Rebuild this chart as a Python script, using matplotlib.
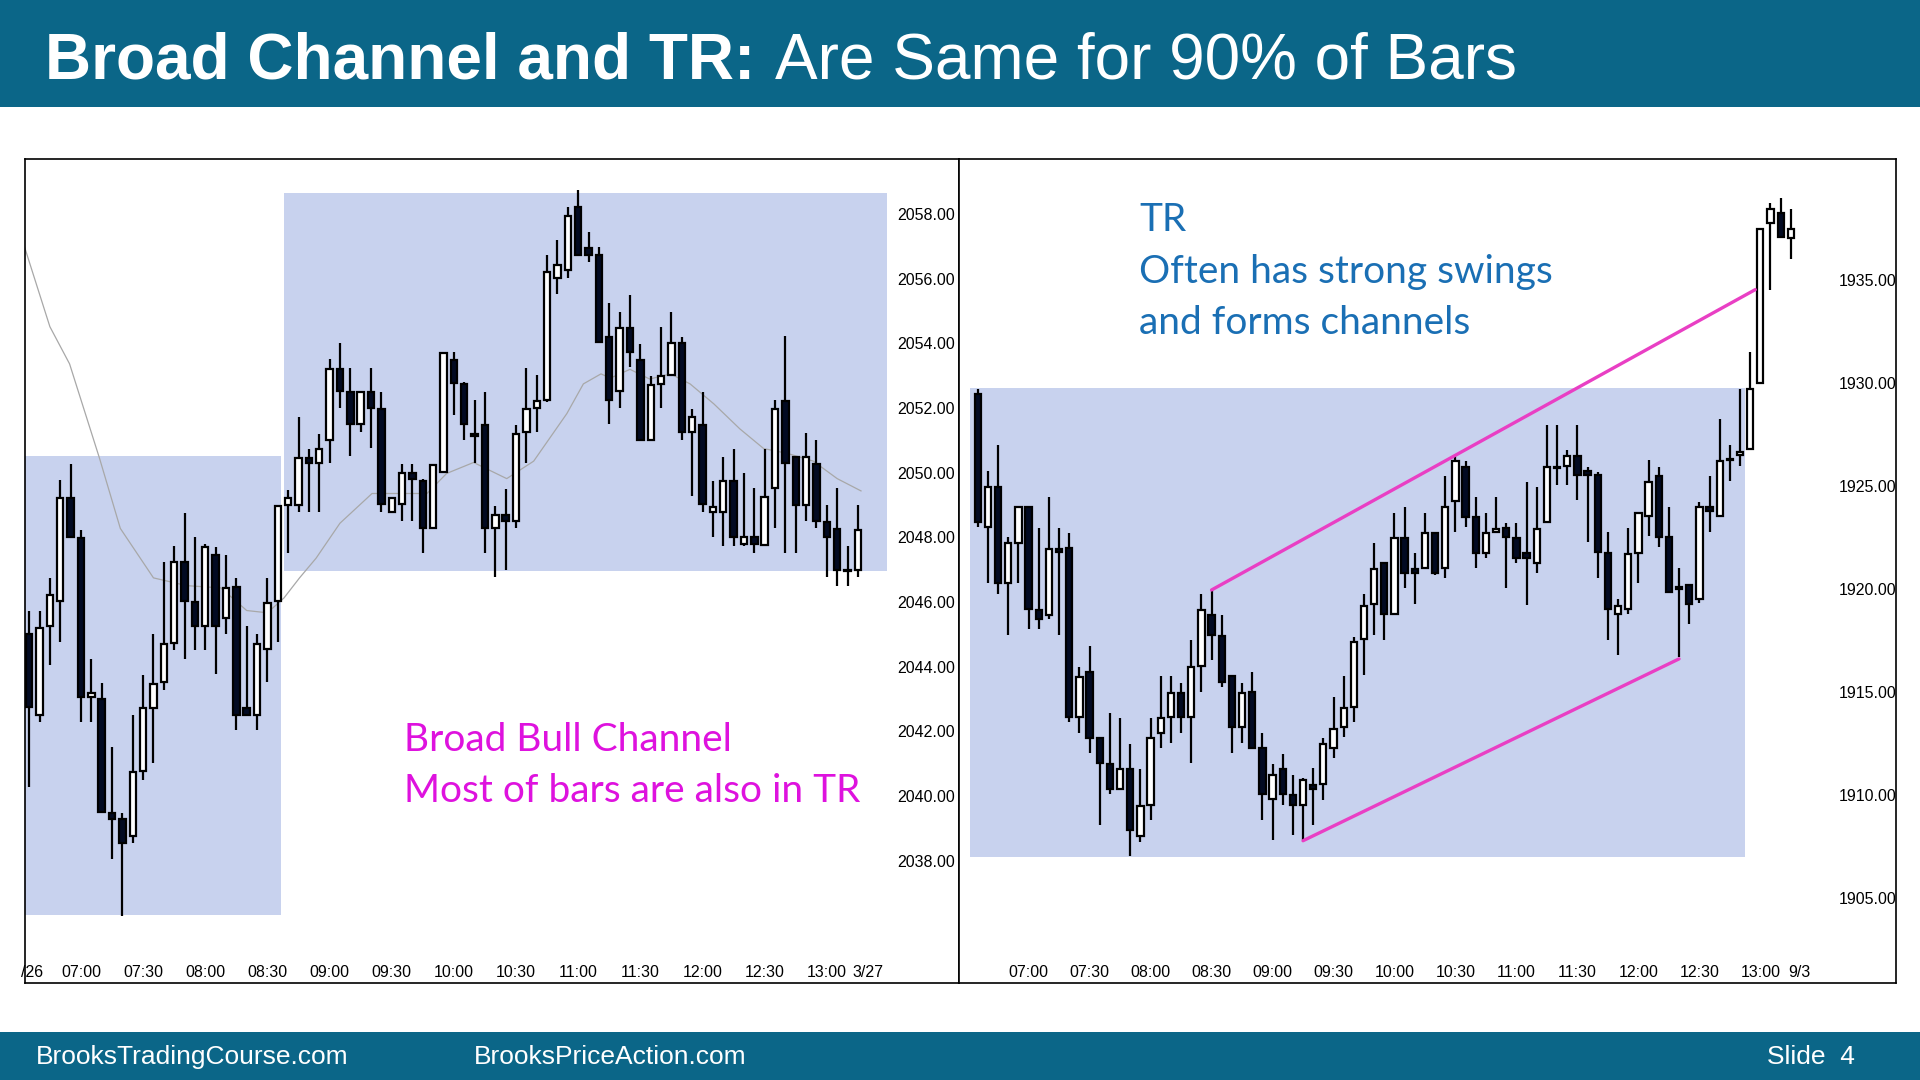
import numpy as np
import matplotlib
matplotlib.use("Agg")
import matplotlib.pyplot as plt
from matplotlib.patches import Rectangle

# ---- left chart (5 min bars from 06:35) ----
left_open = [2045.0, 2042.51, 2045.25, 2046.02, 2049.21, 2047.98, 2043.05, 2043.0, 2039.48, 2039.28,
             2038.77, 2040.77, 2042.74, 2043.54, 2044.74, 2047.24, 2046.0, 2045.25, 2047.47, 2045.51,
             2046.48, 2042.74, 2042.51, 2044.54, 2046.02, 2049.0, 2049.0, 2050.47, 2050.29, 2051.01,
             2053.21, 2052.49, 2051.52, 2052.49, 2051.98, 2048.78, 2049.02, 2049.98, 2049.75, 2048.28,
             2050.02, 2053.49, 2052.75, 2051.2, 2051.49, 2048.28, 2048.7, 2048.52, 2051.26, 2052.01,
             2052.24, 2056.01, 2056.26, 2058.22, 2056.95, 2056.75, 2054.21, 2052.52, 2054.49, 2053.49,
             2051.03, 2052.75, 2053.03, 2054.0, 2051.26, 2051.49, 2048.78, 2048.78, 2049.75, 2047.8,
             2048.0, 2047.78, 2049.52, 2052.21, 2050.49, 2049.0, 2050.26, 2048.48, 2048.25, 2046.98,
             2047.0]
left_high = [2045.74, 2045.74, 2046.75, 2049.78, 2050.26, 2048.24, 2044.25, 2043.51, 2041.51, 2039.48,
             2042.51, 2043.74, 2045.0, 2047.24, 2047.75, 2048.75, 2048.0, 2047.8, 2047.72, 2047.47,
             2046.75, 2045.25, 2045.0, 2046.75, 2049.0, 2049.47, 2051.72, 2050.75, 2051.21, 2053.52,
             2054.01, 2053.24, 2052.5, 2053.24, 2052.49, 2049.25, 2050.26, 2050.26, 2049.8, 2050.25,
             2053.7, 2053.75, 2052.8, 2052.24, 2052.49, 2048.98, 2049.49, 2051.49, 2053.24, 2053.01,
             2056.75, 2057.21, 2058.22, 2058.75, 2057.45, 2056.98, 2055.24, 2054.98, 2055.49, 2053.98,
             2052.98, 2054.52, 2054.98, 2054.21, 2051.98, 2052.49, 2049.75, 2050.49, 2050.75, 2050.0,
             2049.52, 2050.75, 2052.24, 2054.24, 2050.5, 2051.24, 2051.01, 2049.0, 2049.52, 2047.75,
             2049.0]
left_low = [2040.28, 2042.28, 2044.05, 2044.77, 2048.0, 2042.28, 2042.28, 2039.5, 2038.05, 2036.28,
            2038.54, 2040.51, 2041.02, 2043.28, 2044.51, 2044.25, 2044.51, 2044.51, 2043.77, 2045.02,
            2042.05, 2042.51, 2042.05, 2043.54, 2044.77, 2047.51, 2048.78, 2048.78, 2048.78, 2050.29,
            2052.01, 2050.52, 2051.26, 2050.78, 2048.78, 2048.78, 2048.52, 2048.52, 2047.51, 2048.28,
            2050.0, 2051.78, 2051.01, 2050.29, 2047.51, 2046.78, 2047.0, 2048.28, 2050.29, 2051.26,
            2052.2, 2055.52, 2056.01, 2056.75, 2056.52, 2054.06, 2051.52, 2052.01, 2053.26, 2051.03,
            2051.0, 2052.01, 2053.0, 2051.01, 2049.29, 2048.78, 2048.0, 2047.75, 2047.75, 2047.75,
            2047.51, 2047.78, 2048.28, 2047.51, 2047.51, 2048.52, 2048.28, 2046.78, 2046.51, 2046.51,
            2046.78]
left_close = [2042.77, 2045.21, 2046.21, 2049.21, 2048.02, 2043.05, 2043.2, 2039.51, 2039.28, 2038.54,
              2040.74, 2042.71, 2043.48, 2044.71, 2047.24, 2046.02, 2045.25, 2047.72, 2045.25, 2046.44,
              2042.51, 2042.51, 2044.71, 2045.98, 2048.98, 2049.21, 2050.47, 2050.3, 2050.75, 2053.21,
              2052.52, 2051.52, 2052.49, 2052.01, 2049.02, 2049.21, 2049.98, 2049.8, 2048.28, 2050.24,
              2053.7, 2052.78, 2051.52, 2051.15, 2048.28, 2048.7, 2048.52, 2051.21, 2051.98, 2052.21,
              2056.21, 2056.44, 2057.95, 2056.75, 2056.75, 2054.06, 2052.26, 2054.47, 2053.75, 2051.03,
              2052.72, 2052.98, 2054.0, 2051.26, 2051.72, 2049.02, 2048.95, 2049.75, 2048.0, 2048.0,
              2047.8, 2049.24, 2051.98, 2050.29, 2049.0, 2050.49, 2048.52, 2048.02, 2047.0, 2046.95,
              2048.24]

# moving average line on the left chart (bar index, price)
left_ma_x = [-0.6, 2, 3.9, 6.8, 8.8, 12, 15.2, 18.5, 21, 23, 24.6, 26.1, 27.7, 30, 33.1, 35.8, 38.4,
             40.3, 42.9, 46.1, 48.7, 51.9, 53.5, 55.2, 56.1, 58, 59.9, 61.9, 63.8, 66.1, 68.6, 70.9,
             73.2, 75.7, 78, 80.3]
left_ma_y = [2057.14, 2054.52, 2053.37, 2050.44, 2048.28, 2046.75, 2046.51, 2046.44, 2045.74, 2045.67,
             2046.13, 2046.75, 2047.36, 2048.44, 2049.36, 2049.36, 2049.36, 2049.98, 2050.32, 2049.82,
             2050.36, 2051.83, 2052.75, 2053.06, 2052.93, 2053.2, 2052.9, 2053.06, 2052.75, 2052.13,
             2051.36, 2050.75, 2050.6, 2050.36, 2049.82, 2049.44]

# shaded trading ranges: (first bar, last bar, low, high)
left_boxes = [(-0.42, 24.3, 2036.33, 2050.52), (24.6, 82.8, 2046.95, 2058.66)]

# ---- right chart ----
right_open = [1929.48, 1923.03, 1924.97, 1920.3, 1922.25, 1924.0, 1918.98, 1918.73, 1921.94, 1921.97,
              1913.76, 1915.98, 1912.74, 1911.47, 1910.26, 1911.23, 1907.99, 1909.5, 1913.01, 1913.76,
              1914.96, 1913.76, 1916.25, 1918.73, 1917.71, 1915.77, 1913.3, 1915.0, 1912.25, 1909.77,
              1911.23, 1909.98, 1909.5, 1910.47, 1910.52, 1912.25, 1913.27, 1914.28, 1917.55, 1919.25,
              1921.25, 1918.76, 1922.46, 1920.95, 1921.03, 1922.7, 1921.0, 1924.28, 1925.94, 1923.51,
              1921.76, 1922.75, 1922.95, 1922.49, 1921.73, 1921.28, 1923.27, 1925.94, 1926.0, 1926.48,
              1925.74, 1925.54, 1921.76, 1918.78, 1919.03, 1921.76, 1923.55, 1925.49, 1922.51, 1919.98,
              1920.2, 1919.53, 1924.0, 1923.55, 1926.28, 1926.53, 1926.78, 1930.03, 1937.78, 1938.28,
              1937.04]
right_high = [1929.7, 1925.75, 1927.0, 1922.54, 1924.0, 1924.0, 1922.98, 1924.49, 1922.98, 1922.74,
              1916.22, 1917.23, 1912.74, 1913.99, 1913.71, 1912.46, 1911.23, 1913.71, 1915.77, 1915.77,
              1915.44, 1917.52, 1919.75, 1919.95, 1918.73, 1915.77, 1915.44, 1915.98, 1912.98, 1911.49,
              1912.0, 1910.95, 1910.8, 1911.28, 1912.74, 1914.73, 1915.77, 1917.68, 1919.75, 1922.22,
              1921.3, 1923.71, 1924.0, 1921.73, 1923.71, 1922.75, 1925.49, 1926.46, 1926.24, 1924.49,
              1923.71, 1924.49, 1923.22, 1923.22, 1925.21, 1924.97, 1927.97, 1927.97, 1926.75, 1927.97,
              1925.94, 1925.69, 1922.76, 1919.53, 1922.96, 1923.7, 1926.28, 1925.94, 1924.0, 1921.02,
              1920.2, 1924.25, 1925.49, 1928.27, 1926.98, 1929.71, 1931.5, 1937.5, 1938.77, 1939.02,
              1938.48]
right_low = [1923.03, 1920.27, 1919.75, 1917.76, 1920.27, 1918.04, 1918.04, 1918.52, 1917.76, 1913.55,
             1913.01, 1912.04, 1908.52, 1910.03, 1910.26, 1907.02, 1907.71, 1908.77, 1912.25, 1912.49,
             1913.01, 1911.52, 1915.01, 1916.55, 1915.25, 1912.04, 1912.49, 1912.28, 1908.77, 1907.79,
             1909.5, 1908.04, 1907.79, 1908.52, 1909.74, 1911.77, 1912.82, 1913.55, 1915.82, 1917.76,
             1917.52, 1918.76, 1920.03, 1919.25, 1921.0, 1920.7, 1920.52, 1922.78, 1923.03, 1921.03,
             1921.49, 1922.7, 1920.03, 1921.28, 1919.22, 1920.76, 1923.27, 1925.05, 1925.05, 1924.3,
             1922.26, 1920.52, 1917.54, 1916.8, 1918.78, 1920.27, 1922.56, 1922.06, 1919.83, 1916.67,
             1918.29, 1919.33, 1922.76, 1923.5, 1925.24, 1925.99, 1926.78, 1930.0, 1934.55, 1937.09,
             1936.04]
right_close = [1923.27, 1924.94, 1920.27, 1922.22, 1924.0, 1919.01, 1918.52, 1921.94, 1921.81, 1913.76,
               1915.74, 1912.77, 1911.52, 1910.26, 1911.23, 1908.28, 1909.45, 1912.74, 1913.71, 1914.96,
               1913.76, 1916.22, 1918.98, 1917.76, 1915.49, 1913.27, 1914.96, 1912.28, 1910.03, 1910.95,
               1910.03, 1909.5, 1910.71, 1910.26, 1912.46, 1913.17, 1914.2, 1917.44, 1919.17, 1920.95,
               1918.78, 1922.46, 1920.76, 1920.79, 1922.7, 1920.76, 1924.0, 1926.24, 1923.51, 1921.76,
               1922.7, 1922.9, 1922.54, 1921.49, 1921.52, 1922.91, 1925.94, 1925.9, 1926.46, 1925.54,
               1925.54, 1921.81, 1919.03, 1919.16, 1921.71, 1923.7, 1925.19, 1922.51, 1919.83, 1920.1,
               1919.28, 1924.0, 1923.8, 1926.23, 1926.3, 1926.68, 1929.71, 1937.48, 1938.45, 1937.09,
               1937.48]

right_boxes = [(-0.79, 75.5, 1906.96, 1929.76)]
# channel lines: ((bar, price), (bar, price))
right_lines = [((23, 1919.95), (76.5, 1934.55)), ((32, 1907.76), (69, 1916.6))]

time_labels = ["07:00", "07:30", "08:00", "08:30", "09:00", "09:30", "10:00",
               "10:30", "11:00", "11:30", "12:00", "12:30", "13:00"]
first_bar = "06:35"
left_yticks = [2038, 2040, 2042, 2044, 2046, 2048, 2050, 2052, 2054, 2056, 2058]
right_yticks = [1905, 1910, 1915, 1920, 1925, 1930, 1935]

TEAL = "#0b6688"
BOX = "#c8d2ee"
PINK = "#e93fc4"
TICK_FONT = "Liberation Sans"

W, H = 1920, 1080


def bar_index(label):
    h, m = label.split(":")
    h0, m0 = first_bar.split(":")
    return ((int(h) * 60 + int(m)) - (int(h0) * 60 + int(m0))) / 5


def draw_candles(ax, o, h, l, c):
    o, h, l, c = map(np.asarray, (o, h, l, c))
    x = np.arange(len(o))
    ax.vlines(x, l, h, color="black", linewidth=1.6, zorder=3)
    up = c >= o
    bottom = np.minimum(o, c)
    height = np.maximum(np.abs(c - o), 0.03)
    ax.bar(x[up], height[up], bottom=bottom[up], width=0.62, facecolor="white",
           edgecolor="black", linewidth=1.6, zorder=4)
    ax.bar(x[~up], height[~up], bottom=bottom[~up], width=0.62, facecolor="#020a22",
           edgecolor="black", linewidth=1.6, zorder=4)


def setup_axis(ax, xlim, ylim, yticks, date_ticks, ypad):
    ax.set_xlim(*xlim)
    ax.set_ylim(*ylim)
    ax.set_facecolor("white")
    xt = [bar_index(t) for t in time_labels] + [d[0] for d in date_ticks]
    xl = time_labels + [d[1] for d in date_ticks]
    ax.set_xticks(xt, xl)
    ax.set_yticks(yticks, [f"{v:.2f}" for v in yticks])
    ax.yaxis.tick_right()
    ax.tick_params(axis="x", length=0, pad=-13, labelsize=11.5)
    ax.tick_params(axis="y", length=0, pad=ypad, labelsize=11.5)
    for lab in ax.get_xticklabels() + ax.get_yticklabels():
        lab.set_fontfamily(TICK_FONT)
    for sp in ax.spines.values():
        sp.set_linewidth(1.2)
        sp.set_color("black")


def add_boxes(ax, boxes):
    for x0, x1, y0, y1 in boxes:
        ax.add_patch(Rectangle((x0, y0), x1 - x0, y1 - y0, facecolor=BOX,
                               edgecolor="none", zorder=1))


fig = plt.figure(figsize=(19.2, 10.8), dpi=100)
fig.patch.set_facecolor("white")

# header and footer bands
fig.patches.append(Rectangle((0, 1 - 106.5 / H), 1, 106.5 / H, transform=fig.transFigure,
                             facecolor=TEAL, edgecolor="none", zorder=0))
fig.patches.append(Rectangle((0, 0), 1, 48 / H, transform=fig.transFigure,
                             facecolor=TEAL, edgecolor="none", zorder=0))

ax_top = 1 - 159.2 / H
ax_bot = 1 - 983.3 / H
ax1 = fig.add_axes([24.5 / W, ax_bot, (958.8 - 24.5) / W, ax_top - ax_bot])
ax2 = fig.add_axes([958.8 / W, ax_bot, (1895.5 - 958.8) / W, ax_top - ax_bot])

# left panel
add_boxes(ax1, left_boxes)
ax1.plot(left_ma_x, left_ma_y, color="#a8a8a8", linewidth=0.9, zorder=2)
draw_candles(ax1, left_open, left_high, left_low, left_close)
setup_axis(ax1, (-0.45, 89.74), (2034.21, 2059.70), left_yticks,
           [(0.3, "/26"), (81.0, "3/27")], -44)

# right panel
add_boxes(ax2, right_boxes)
draw_candles(ax2, right_open, right_high, right_low, right_close)
for (xa, ya), (xb, yb) in right_lines:
    ax2.plot([xa, xb], [ya, yb], color=PINK, linewidth=2.4, zorder=5, solid_capstyle="round")
setup_axis(ax2, (-1.87, 90.3), (1900.83, 1940.89), right_yticks,
           [(80.8, "9/3")], -40.5)

# title, two weights on one line
t1 = fig.text(45 / W, 1 - 78.4 / H, "Broad Channel and TR:", color="white", fontsize=46,
              fontweight="bold", family="Liberation Sans", va="baseline")
r = fig.canvas.get_renderer()
bb = t1.get_window_extent(renderer=r)
fig.text(bb.x1 / W + 20 / W, 1 - 78.4 / H, "Are Same for 90% of Bars", color="white",
         fontsize=46, family="Liberation Sans", va="baseline")

# annotations
ann_font = ["Lato", "DejaVu Sans"]
blue = "#1a6fb4"
for i, line in enumerate(["TR", "Often has strong swings", "and forms channels"]):
    fig.text(1139 / W, 1 - (231.4 + 51.4 * i) / H, line, color=blue, fontsize=28,
             family=ann_font, va="baseline")
magenta = "#de12de"
for i, line in enumerate(["Broad Bull Channel", "Most of bars are also in TR"]):
    fig.text(404 / W, 1 - (750.6 + 51.4 * i) / H, line, color=magenta, fontsize=28,
             family=ann_font, va="baseline")

# footer
foot_font = "Liberation Sans"
fig.text(35.5 / W, 1 - 1064 / H, "BrooksTradingCourse.com", color="white", fontsize=19,
         family=foot_font, va="baseline")
fig.text(474 / W, 1 - 1064 / H, "BrooksPriceAction.com", color="white", fontsize=19,
         family=foot_font, va="baseline")
fig.text(1767 / W, 1 - 1064 / H, "Slide  4", color="white", fontsize=19,
         family=foot_font, va="baseline")

fig.savefig("out.png", dpi=100)
plt.close(fig)
